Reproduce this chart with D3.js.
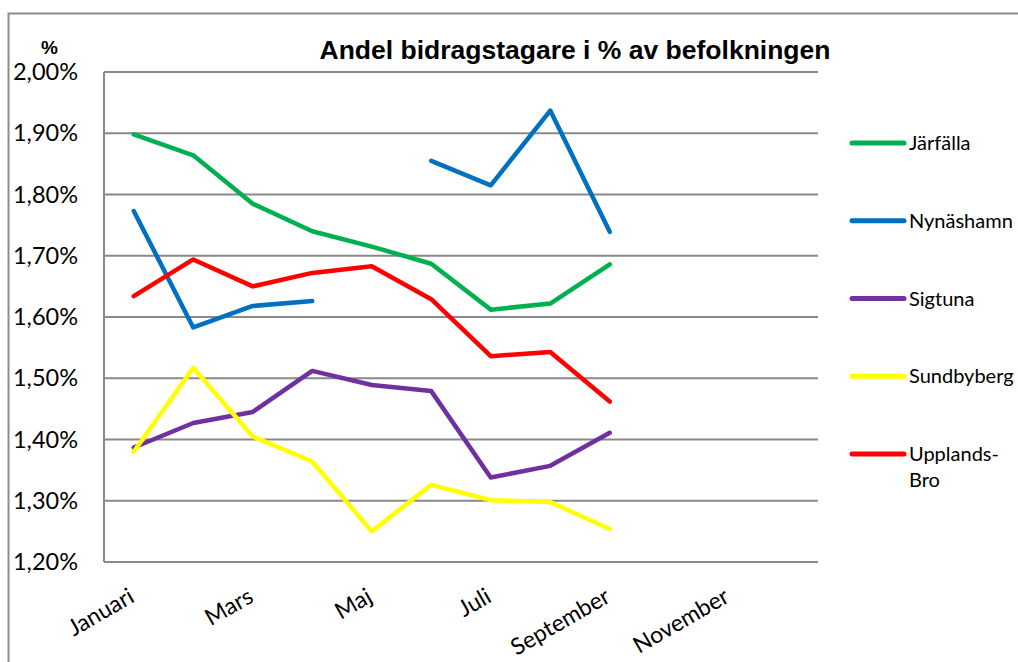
<!DOCTYPE html>
<html>
<head>
<meta charset="utf-8">
<script src="https://cdn.jsdelivr.net/npm/d3@7"></script>
<style>
  html, body { margin: 0; padding: 0; background: #fff; }
  svg { display: block; }
</style>
</head>
<body>
<svg id="chart" width="1018" height="662"></svg>
<script>
const months = ["Januari","Februari","Mars","April","Maj","Juni","Juli","Augusti","September","Oktober","November","December"];
const shownMonths = ["Januari","Mars","Maj","Juli","September","November"];
const yTicks = [1.2,1.3,1.4,1.5,1.6,1.7,1.8,1.9,2.0];

const seriesNames = ["Järfälla","Nynäshamn","Sigtuna","Sundbyberg","Upplands-Bro"];
const jarfalla    = [1.898,1.864,1.785,1.740,1.715,1.687,1.612,1.622,1.686,null,null,null];
const nynashamn   = [1.773,1.583,1.618,1.626,null,1.855,1.815,1.937,1.739,null,null,null];
const sigtuna     = [1.387,1.427,1.445,1.512,1.489,1.479,1.338,1.357,1.411,null,null,null];
const sundbyberg  = [1.380,1.517,1.405,1.364,1.250,1.326,1.301,1.298,1.254,null,null,null];
const upplandsbro = [1.634,1.694,1.650,1.672,1.683,1.629,1.536,1.543,1.462,null,null,null];
const seriesValues = [jarfalla, nynashamn, sigtuna, sundbyberg, upplandsbro];
const seriesColors = ["#00B050","#0070C0","#7030A0","#FFFF00","#FF0000"];

const svg = d3.select("#chart");
const L = 104, R = 818, T = 72, B = 562;

const x = d3.scaleBand().domain(months).range([L, R]);
const y = d3.scaleLinear().domain([1.2, 2.0]).range([B, T]);
const cx = m => x(m) + x.bandwidth() / 2;

// outer frame
svg.append("path")
  .attr("d", "M8.5,662 L8.5,13.5 L1018,13.5")
  .attr("fill", "none").attr("stroke", "#8c8c8c").attr("stroke-width", 2);

// gridlines
svg.append("g").selectAll("line").data(yTicks).join("line")
  .attr("x1", L).attr("x2", R)
  .attr("y1", d => y(d)).attr("y2", d => y(d))
  .attr("stroke", "#898989").attr("stroke-width", 2);

// left axis line
svg.append("line").attr("x1", L).attr("x2", L).attr("y1", T).attr("y2", B)
  .attr("stroke", "#898989").attr("stroke-width", 2);

// y labels
const fmt = d => d.toFixed(2).replace(".", ",") + "%";
svg.append("g").selectAll("text").data(yTicks).join("text")
  .attr("x", 78).attr("y", d => y(d))
  .attr("dy", "0.35em")
  .attr("text-anchor", "end")
  .attr("font-family", "Lato, 'Open Sans', sans-serif")
  .attr("font-size", 23.5)
  .attr("fill", "#000")
  .text(fmt);

// x labels
svg.append("g").selectAll("text").data(shownMonths).join("text")
  .attr("transform", d => `translate(${cx(d) + 2},${601}) rotate(-30)`)
  .attr("text-anchor", "end")
  .attr("font-family", "Lato, 'Open Sans', sans-serif")
  .attr("font-size", 23)
  .attr("fill", "#000")
  .text(d => d);

// title
svg.append("text")
  .attr("x", 575).attr("y", 59)
  .attr("text-anchor", "middle")
  .attr("font-family", "'Liberation Sans', Arial, sans-serif")
  .attr("font-weight", "bold")
  .attr("font-size", 26.5)
  .text("Andel bidragstagare i % av befolkningen");

svg.append("text")
  .attr("x", 49.5).attr("y", 54)
  .attr("text-anchor", "middle")
  .attr("font-family", "'Liberation Sans', Arial, sans-serif")
  .attr("font-weight", "bold")
  .attr("font-size", 19)
  .text("%");

// lines
const line = d3.line()
  .defined(d => d.v != null)
  .x(d => cx(d.m))
  .y(d => y(d.v));

seriesValues.forEach((vals, i) => {
  svg.append("path")
    .datum(vals.map((v, j) => ({ m: months[j], v })))
    .attr("d", line)
    .attr("fill", "none")
    .attr("stroke", seriesColors[i])
    .attr("stroke-width", 4.5)
    .attr("stroke-linecap", "round")
    .attr("stroke-linejoin", "round");
});

// legend
const legY = d3.scalePoint().domain(seriesNames).range([143, 454]);
const leg = svg.append("g").selectAll("g").data(seriesNames).join("g")
  .attr("transform", d => `translate(0,${legY(d)})`);
leg.append("line")
  .attr("x1", 852).attr("x2", 904).attr("y1", 0).attr("y2", 0)
  .attr("stroke", (d, i) => seriesColors[i])
  .attr("stroke-width", 5)
  .attr("stroke-linecap", "round");
leg.append("text")
  .attr("x", 909).attr("y", 0).attr("dy", "0.35em")
  .attr("font-family", "Lato, 'Open Sans', sans-serif")
  .attr("font-size", 20)
  .attr("fill", "#000")
  .each(function(d) {
    const t = d3.select(this);
    if (d === "Upplands-Bro") {
      t.append("tspan").attr("x", 909).text("Upplands-");
      t.append("tspan").attr("x", 909).attr("dy", "1.3em").text("Bro");
    } else {
      t.text(d);
    }
  });
</script>
</body>
</html>
